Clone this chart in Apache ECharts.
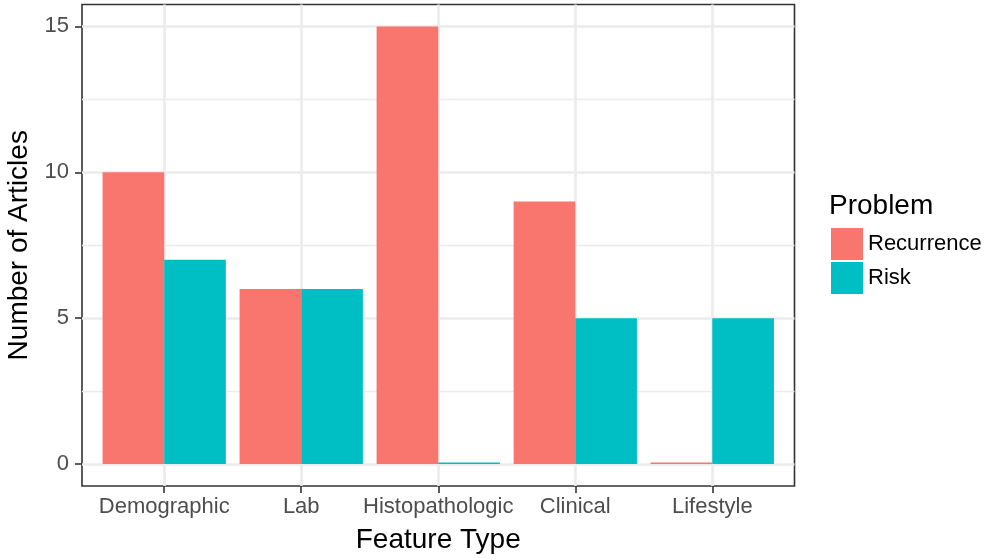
<!DOCTYPE html>
<html>
<head>
<meta charset="utf-8">
<script src="https://cdn.jsdelivr.net/npm/echarts@6/dist/echarts.min.js"></script>
<style>
html,body{margin:0;padding:0;background:#fff;}
#chart{width:984px;height:559px;}
</style>
</head>
<body>
<div id="chart"></div>
<script>
var categories = ['Demographic', 'Lab', 'Histopathologic', 'Clinical', 'Lifestyle'];
var seriesNames = ['Recurrence', 'Risk'];
var recurrence = [10, 6, 15, 9, 0];
var risk = [7, 6, 0, 5, 5];
var yTicks = [0, 5, 10, 15];
var yMinorTicks = [2.5, 7.5, 12.5];
var xTicks = [1, 2, 3, 4, 5];

var FONT = "'Liberation Sans', Arial, sans-serif";
var colors = ['#F8766D', '#00BFC4'];

function pairs(vals) {
  return vals.map(function (v, i) { return [i + 1, v]; });
}

var chart = echarts.init(document.getElementById('chart'), null, {renderer: 'canvas'});
chart.setOption({
  animation: false,
  backgroundColor: '#ffffff',
  textStyle: {fontFamily: FONT},
  title: {
    text: 'Problem',
    left: 829,
    top: 192,
    padding: 0,
    textStyle: {fontFamily: FONT, fontSize: 28, fontWeight: 'normal', color: '#000000'}
  },
  legend: {
    orient: 'vertical',
    left: 831,
    top: 228,
    padding: 0,
    itemWidth: 32,
    itemHeight: 32,
    itemGap: 2,
    icon: 'rect',
    selectedMode: false,
    data: seriesNames,
    textStyle: {fontFamily: FONT, fontSize: 22, color: '#000000'}
  },
  grid: {
    left: 82,
    right: 984 - 794.5,
    top: 4.5,
    bottom: 559 - 486,
    show: true,
    backgroundColor: '#ffffff',
    borderColor: '#333333',
    borderWidth: 1.6,
    containLabel: false,
    outerBoundsMode: 'none'
  },
  xAxis: {
    type: 'value',
    min: 0.4,
    max: 5.6,
    name: 'Feature Type',
    nameLocation: 'middle',
    nameGap: 40,
    nameTextStyle: {fontFamily: FONT, fontSize: 28, color: '#000000'},
    axisLine: {show: false, onZero: false},
    axisTick: {show: true, length: 7, lineStyle: {color: '#333333', width: 1.6}, customValues: xTicks},
    axisLabel: {
      customValues: xTicks,
      margin: 10,
      fontFamily: FONT, fontSize: 22, color: '#4d4d4d',
      formatter: function (v) { return categories[Math.round(v) - 1] || ''; }
    },
    splitLine: {show: true, lineStyle: {color: '#ebebeb', width: 2.6}}
  },
  yAxis: [{
    type: 'value',
    min: -0.75,
    max: 15.75,
    name: 'Number of Articles',
    nameLocation: 'middle',
    nameGap: 47,
    nameTextStyle: {fontFamily: FONT, fontSize: 28, color: '#000000'},
    axisLine: {show: false, onZero: false},
    axisTick: {show: true, length: 7, lineStyle: {color: '#333333', width: 1.6}, customValues: yTicks},
    axisLabel: {customValues: yTicks, margin: 13, fontFamily: FONT, fontSize: 22, color: '#4d4d4d'},
    splitLine: {show: true, lineStyle: {color: '#ebebeb', width: 2.6}}
  }, {
    type: 'value',
    min: -0.75,
    max: 15.75,
    position: 'left',
    alignTicks: false,
    axisLine: {show: false, onZero: false},
    axisTick: {show: false, customValues: yMinorTicks},
    axisLabel: {show: false, customValues: yMinorTicks},
    splitLine: {show: true, lineStyle: {color: '#ebebeb', width: 1.3}}
  }],
  series: [{
    name: seriesNames[0],
    type: 'bar',
    data: pairs(recurrence),
    barWidth: '45%',
    barGap: '0%',
    barMinHeight: 1.5,
    itemStyle: {color: colors[0]},
    z: 3
  }, {
    name: seriesNames[1],
    type: 'bar',
    data: pairs(risk),
    barWidth: '45%',
    barGap: '0%',
    barMinHeight: 1.5,
    itemStyle: {color: colors[1]},
    z: 3
  }]
});
</script>
</body>
</html>
